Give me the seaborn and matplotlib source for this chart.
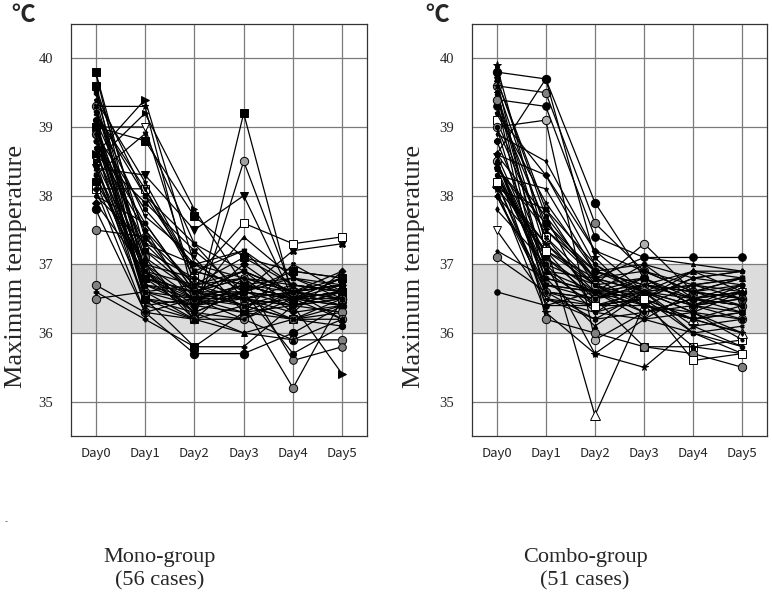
import numpy as np
import pandas as pd
import matplotlib
matplotlib.use("Agg")
import matplotlib.pyplot as plt
import seaborn as sns

# Daily maximum temperature (deg C) per patient
days = [0, 1, 2, 3, 4, 5]
day_labels = ["Day0", "Day1", "Day2", "Day3", "Day4", "Day5"]

mono_day0 = [39.8, 39.8, 39.6, 39.5, 39.4, 39.3, 39.2, 39.1, 39.0, 39.0,
             38.9, 38.9, 38.8, 38.7, 38.6, 38.5, 38.5, 38.4, 38.4, 38.3,
             38.2, 38.1, 38.0, 37.9, 37.8, 37.5, 36.7, 36.5, 36.6, 39.0,
             39.3, 38.9, 39.1, 38.6, 38.8, 39.2, 38.3, 39.4, 38.7, 39.0,
             38.5, 39.6, 38.2, 39.1, 38.0, 38.9, 39.5, 38.4, 38.8, 39.0,
             38.6, 39.2, 38.3, 38.7, 39.3, 38.1]
mono_day1 = [36.8, 37.2, 36.5, 37.0, 36.9, 39.3, 38.0, 37.5, 39.0, 36.8,
             37.8, 36.6, 37.3, 36.4, 39.4, 39.2, 37.0, 38.3, 36.7, 38.9,
             36.5, 38.1, 37.6, 36.9, 36.3, 37.4, 36.3, 36.6, 36.2, 38.8,
             37.1, 36.9, 36.5, 37.9, 36.7, 37.7, 36.8, 38.2, 36.6, 37.2,
             36.4, 37.4, 37.0, 36.8, 37.3, 36.5, 38.0, 36.9, 37.6, 36.6,
             37.1, 38.1, 36.7, 37.5, 36.9, 36.3]
mono_day2 = [36.5, 36.6, 36.2, 36.8, 36.7, 36.5, 36.9, 36.4, 36.7, 36.3,
             37.0, 36.2, 36.6, 36.5, 37.0, 37.8, 36.3, 37.5, 36.4, 37.3,
             35.8, 36.8, 36.6, 36.4, 35.7, 36.5, 36.2, 36.7, 35.8, 37.7,
             36.6, 36.2, 36.3, 37.2, 36.5, 37.1, 36.6, 36.9, 36.4, 36.8,
             36.2, 36.7, 36.5, 36.6, 37.0, 36.4, 37.3, 36.3, 36.6, 36.5,
             36.2, 36.9, 36.6, 36.7, 36.5, 36.5]
mono_day3 = [36.7, 36.8, 39.2, 36.5, 36.9, 36.6, 36.7, 36.5, 36.4, 36.2,
             37.2, 38.5, 36.8, 36.3, 36.6, 36.7, 36.0, 38.0, 36.6, 36.9,
             36.3, 37.6, 36.5, 37.0, 35.7, 36.2, 36.4, 36.5, 35.8, 37.1,
             36.4, 36.8, 36.6, 36.6, 37.4, 36.3, 36.9, 36.7, 36.3, 36.5,
             36.2, 37.1, 36.6, 36.4, 36.8, 36.7, 36.5, 36.6, 36.9, 36.5,
             36.0, 37.2, 36.6, 36.8, 36.4, 36.7]
mono_day4 = [36.5, 36.6, 36.5, 36.4, 36.6, 36.5, 36.8, 36.2, 36.6, 36.5,
             36.5, 36.6, 36.7, 36.4, 36.4, 36.5, 36.2, 36.5, 36.5, 36.6,
             36.2, 37.3, 36.7, 36.5, 36.0, 35.9, 36.2, 36.6, 36.4, 36.9,
             35.2, 35.6, 35.7, 37.2, 36.8, 36.6, 36.6, 36.5, 37.0, 36.3,
             36.6, 36.7, 36.8, 36.5, 36.3, 36.6, 36.4, 36.9, 36.4, 36.6,
             35.9, 36.7, 36.5, 36.6, 36.2, 36.5]
mono_day5 = [36.6, 36.7, 36.6, 36.5, 36.8, 36.4, 36.6, 36.2, 36.7, 36.5,
             36.6, 36.5, 36.6, 36.3, 35.4, 36.6, 36.4, 36.6, 36.8, 36.7,
             36.5, 37.4, 36.6, 36.7, 36.4, 35.9, 36.3, 36.2, 36.6, 36.8,
             36.5, 35.8, 36.1, 37.3, 36.5, 36.7, 36.4, 36.8, 36.6, 36.9,
             36.5, 36.6, 36.7, 36.2, 36.4, 36.5, 36.6, 36.8, 36.5, 36.7,
             36.2, 36.6, 36.4, 36.9, 36.1, 36.6]

combo_day0 = [39.9, 39.8, 39.7, 39.7, 39.6, 39.5, 39.5, 39.4, 39.3, 39.2,
              39.1, 39.0, 39.0, 38.9, 38.8, 38.6, 38.6, 38.5, 38.5, 38.4,
              38.4, 38.3, 38.3, 38.2, 38.2, 38.1, 38.1, 38.0, 38.0, 37.8,
              37.5, 37.2, 37.1, 36.6, 39.7, 39.5, 39.4, 39.2, 39.0, 38.6,
              38.5, 38.4, 38.3, 38.2, 38.1, 38.0, 38.6, 39.6, 38.4, 38.2,
              38.5]
combo_day1 = [37.3, 39.7, 37.8, 36.7, 39.5, 37.2, 36.5, 39.3, 37.6, 38.3,
              37.4, 39.1, 36.6, 38.5, 37.1, 39.7, 37.7, 37.0, 36.8, 37.5,
              36.4, 38.1, 36.9, 37.3, 36.6, 37.8, 36.3, 37.2, 36.7, 37.0,
              36.5, 36.8, 36.6, 36.4, 37.7, 36.9, 36.2, 37.9, 37.4, 38.3,
              36.7, 37.6, 37.1, 36.5, 37.3, 36.6, 37.0, 37.5, 36.8, 37.2,
              36.9]
combo_day2 = [36.6, 37.9, 36.7, 36.5, 37.6, 36.8, 36.2, 37.4, 36.9, 37.0,
              36.5, 35.9, 36.4, 37.2, 36.6, 37.1, 36.3, 36.7, 36.1, 36.8,
              36.6, 36.9, 36.4, 34.8, 36.5, 37.0, 35.7, 36.7, 36.6, 36.3,
              36.4, 36.6, 36.5, 36.4, 36.8, 36.6, 36.0, 36.9, 36.7, 37.2,
              36.6, 36.8, 36.5, 36.3, 36.7, 36.2, 35.7, 36.9, 36.6, 36.4,
              36.8]
combo_day3 = [36.7, 36.8, 36.5, 36.6, 36.9, 36.4, 36.6, 37.1, 36.7, 36.5,
              35.8, 36.3, 36.5, 36.6, 36.8, 36.4, 36.2, 37.3, 36.6, 36.9,
              36.3, 37.0, 36.5, 36.4, 36.7, 36.6, 35.5, 36.8, 36.4, 36.5,
              36.6, 36.2, 36.7, 36.4, 37.1, 36.6, 35.8, 36.7, 36.3, 36.9,
              36.5, 36.6, 36.8, 36.7, 36.4, 36.3, 36.2, 36.6, 37.0, 36.5,
              36.6]
combo_day4 = [36.5, 36.4, 36.2, 36.7, 36.6, 36.3, 36.0, 37.1, 36.5, 36.8,
              35.8, 36.4, 36.9, 36.1, 36.4, 35.8, 36.6, 36.6, 36.3, 36.7,
              36.5, 36.8, 36.0, 36.2, 36.6, 36.4, 36.1, 36.5, 36.7, 36.2,
              36.5, 36.3, 36.6, 36.2, 37.0, 36.4, 35.7, 36.9, 36.5, 36.6,
              36.8, 36.3, 36.4, 36.6, 36.2, 36.5, 36.0, 36.7, 36.5, 35.6,
              36.9]
combo_day5 = [36.4, 36.6, 36.3, 36.8, 36.5, 36.0, 35.7, 37.1, 36.6, 36.7,
              35.9, 36.2, 36.9, 35.8, 36.5, 35.7, 36.8, 36.4, 36.6, 36.5,
              36.3, 36.9, 36.1, 36.0, 36.7, 36.5, 36.2, 36.4, 36.8, 36.0,
              36.6, 35.9, 36.5, 36.3, 36.9, 36.7, 35.5, 36.6, 36.4, 36.5,
              36.9, 36.2, 36.3, 36.8, 36.4, 36.6, 35.8, 36.6, 36.7, 35.7,
              36.8]

mono = [mono_day0, mono_day1, mono_day2, mono_day3, mono_day4, mono_day5]
combo = [combo_day0, combo_day1, combo_day2, combo_day3, combo_day4, combo_day5]

# default marker cycle, mostly small solid black symbols
MARKERS = ["o", "s", "^", "v", "o", "*", "X", "D", "o", "p", "h", "<", "P", "d", "8", "H"]
SIZES = [3.5, 3.5, 3.0, 3.5, 2.5, 4.5, 3.5, 3.0, 3.0]
# patients whose symbol stands out in the picture: index -> (marker, face, size)
MONO_STYLE = {0: ("s", "black", 6), 1: ("s", "black", 5), 2: ("s", "black", 5.5),
              8: ("v", "white", 6), 11: ("o", "#a0a0a0", 6), 14: (">", "black", 6),
              15: (">", "black", 5), 17: ("v", "black", 6), 21: ("s", "white", 6),
              25: ("o", "#808080", 6), 26: ("o", "#808080", 6), 27: ("o", "#808080", 6),
              30: ("o", "#808080", 6), 31: ("o", "#808080", 5.5), 33: ("X", "black", 5),
              24: ("o", "black", 6), 20: ("s", "black", 5.5), 29: ("s", "black", 5.5)}
COMBO_STYLE = {0: ("*", "black", 6), 1: ("o", "black", 6), 4: ("o", "#808080", 6),
               11: ("o", "#b0b0b0", 6), 2: ("X", "black", 5), 8: ("o", "black", 5.5),
               17: ("o", "#b0b0b0", 6), 23: ("^", "white", 6.5), 26: ("*", "black", 5.5),
               30: ("v", "white", 6), 32: ("o", "#808080", 6), 10: ("s", "white", 5.5),
               15: ("*", "black", 6), 36: ("o", "#808080", 6), 49: ("s", "white", 5.5),
               7: ("o", "black", 5.5), 47: ("*", "black", 5), 33: ("o", "black", 4)}


def to_long(cols):
    n = len(cols[0])
    rows = []
    for d, vals in zip(days, cols):
        assert len(vals) == n
        for pid, v in enumerate(vals):
            rows.append({"pid": f"p{pid:02d}", "day": d, "temp": v})
    return pd.DataFrame(rows), n


def draw(ax, cols, special):
    df, n = to_long(cols)
    markers = [special.get(i, (MARKERS[i % len(MARKERS)],))[0] for i in range(n)]
    sns.lineplot(data=df, x="day", y="temp", hue="pid", style="pid",
                 palette=["black"] * n, markers=markers, dashes=False,
                 legend=False, ax=ax, linewidth=0.9,
                 markeredgecolor="black", markeredgewidth=0.7)
    for i, line in enumerate(ax.lines):
        if i in special:
            _, face, size = special[i]
        else:
            face, size = "black", SIZES[i % len(SIZES)]
        line.set_markerfacecolor(face)
        line.set_markersize(size)
        line.set_zorder(3)

    ax.axhspan(36, 37, color="#dcdcdc", zorder=0.2, lw=0)
    ax.set_xlim(-0.5, 5.5)
    ax.set_ylim(34.5, 40.5)
    ax.set_xticks(days)
    ax.set_xticklabels(day_labels, fontfamily="Noto Sans CJK JP", fontsize=9.5)
    ax.set_yticks([35, 36, 37, 38, 39, 40])
    ax.set_yticklabels(["35", "36", "37", "38", "39", "40"],
                       fontfamily="Liberation Serif", fontsize=10.5)
    ax.tick_params(axis="y", length=0, pad=13)
    ax.tick_params(axis="x", length=0, pad=8)
    ax.grid(True, color="#7a7a7a", lw=0.9)
    ax.set_axisbelow(True)
    ax.set_xlabel("")
    ax.set_ylabel("")
    for s in ax.spines.values():
        s.set_color("#333333")
        s.set_linewidth(0.9)


sns.set_style("white")
fig = plt.figure(figsize=(7.72, 5.96), dpi=100)
ax1 = fig.add_axes([71 / 772, 1 - 436 / 596, 296 / 772, 412 / 596])
ax2 = fig.add_axes([472 / 772, 1 - 436 / 596, 295 / 772, 412 / 596])
draw(ax1, mono, MONO_STYLE)
draw(ax2, combo, COMBO_STYLE)

for x in (16, 414):
    fig.text(x / 772, 1 - 266 / 596, "Maximum temperature", rotation=90,
             ha="center", va="center", fontfamily="Liberation Serif", fontsize=19)
for x in (23, 437):
    fig.text(x / 772, 1 - 15 / 596, "℃", ha="center", va="center",
             fontfamily=["Noto Sans CJK JP", "DejaVu Sans"], fontsize=17, fontweight="bold")

fig.text(160 / 772, 1 - 569 / 596, "Mono-group\n(56 cases)", ha="center", va="center",
         fontfamily="Liberation Serif", fontsize=16, linespacing=1.3)
fig.text(585 / 772, 1 - 569 / 596, "Combo-group\n(51 cases)", ha="center", va="center",
         fontfamily="Liberation Serif", fontsize=16, linespacing=1.3)
fig.text(6 / 772, 1 - 522 / 596, "-", ha="center", va="center", fontsize=6, color="#555555")

fig.savefig("out.png", dpi=100)
